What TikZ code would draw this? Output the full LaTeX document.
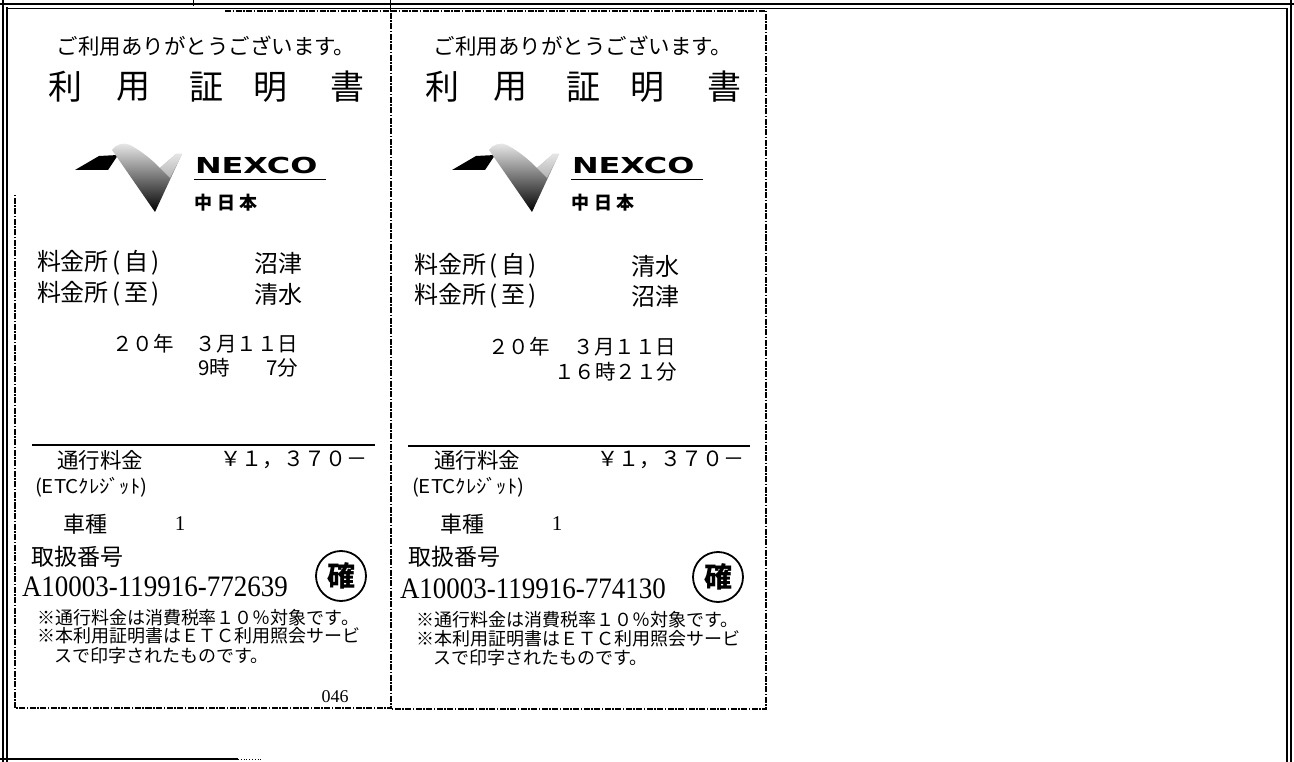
\documentclass[tikz,border=0pt]{standalone}
\usepackage{fontspec}
\newfontfamily\jp{Noto Sans CJK JP}
\newfontfamily\rmserif{Liberation Serif}
\newfontfamily\nexfont{DejaVu Sans}
\newcommand\myfs[1]{\fontsize{#1}{#1}\selectfont}
\tikzset{
  t/.style={inner sep=0pt, outer sep=0pt},
  framel/.style={line width=1.1pt},
  rcpt/.style={line width=1.1pt, dash pattern=on 6pt off 1.5pt on 1.5pt off 1.5pt},
  rule/.style={line width=1.4pt},
  stamp/.style={circle, draw, line width=1.8pt, minimum size=50pt, inner sep=0pt, font=\jp\bfseries\myfs{28}},
  lab/.style={t, anchor=west, font=\jp\myfs{24}},
  mid/.style={t, anchor=west, font=\jp\myfs{20.5}},
  note/.style={t, anchor=west, font=\jp\myfs{18}},
}
% common part of one receipt: #1 = name prefix, #2 = x shift
\newcommand\rcommon[2]{%
\begin{scope}[xshift=#2]
  \node[t, font=\jp\myfs{21.5}] (#1thanks) at (206,46) {ご利用ありがとうございます。};
  \node[t, font=\jp\myfs{34}] (#1tA) at (65,87) {利};
  \node[t, font=\jp\myfs{34}] (#1tB) at (133,87) {用};
  \node[t, font=\jp\myfs{34}] (#1tC) at (206,87) {証};
  \node[t, font=\jp\myfs{34}] (#1tD) at (270,87) {明};
  \node[t, font=\jp\myfs{34}] (#1tE) at (347,87) {書};
  % logo
  \fill (75,170) -- (99,156) -- (118,155) -- (108,170) -- cycle;
  \shade[top color=gray!15, bottom color=black]
    (112,150) .. controls (116,144) and (124,142) .. (130,145)
    .. controls (143,152) and (152,160) .. (160,168)
    -- (176,154) -- (182,154) -- (155,212) -- cycle;
  \shade[top color=gray!20, bottom color=gray!60]
    (160,168) -- (176,154) -- (182,154) -- (170,178) -- cycle;
  \node[t, anchor=west, font=\nexfont\bfseries\myfs{22}, xscale=1.45] (#1nexco) at (195,165) {NEXCO};
  \draw[line width=0.9pt] (194,179) -- (326,179);
  \node[t, font=\jp\bfseries\myfs{18}] (#1cA) at (203,203) {中};
  \node[t, font=\jp\bfseries\myfs{18}] (#1cB) at (226,203) {日};
  \node[t, font=\jp\bfseries\myfs{18}] (#1cC) at (248,203) {本};
  % fee block
  \node[t, anchor=west, font=\jp\myfs{21.5}] (#1fee) at (57,460) {通行料金};
  \node[t, anchor=west, font=\jp\myfs{21}] (#1yen) at (220,460) {￥１，３７０－};
  \node[t, anchor=west, font=\jp\myfs{19}, xscale=1.08] (#1etc) at (35,487) {(ETCｸﾚｼﾞｯﾄ)};
  \node[t, anchor=west, font=\jp\myfs{22}] (#1kind) at (63,524) {車種};
  \node[t, font=\rmserif\myfs{21}] (#1kindv) at (180,524) {1};
  \node[t, anchor=west, font=\jp\myfs{23}] (#1num) at (31,557) {取扱番号};
\end{scope}}
\begin{document}
\begin{tikzpicture}[x=1pt, y=-1pt]
  \fill[white] (0,0) rectangle (1294,762);
  \useasboundingbox (0,0) rectangle (1294,762);
  % outer scanned frame
  \draw[framel] (3,0) -- (3,762);
  \draw[framel] (7,7) -- (7,762);
  \draw[framel] (0,4) -- (1294,4);
  \draw[line width=0.6pt] (7,8) -- (1287,8);
  \draw[framel] (1287,8) -- (1287,762);
  \draw[framel] (1291,0) -- (1291,762);
  \draw[framel] (0,759) -- (238,759);
  \draw[line width=0.8pt, dotted] (238,759) -- (262,759);
  \draw[line width=0.8pt] (193,0) -- (193,6);
  \draw[line width=0.8pt] (390,0) -- (390,10);
  % receipt outlines
  \draw[rcpt] (225,11) -- (391,11) -- (391,708) -- (15,708) -- (15,195);
  \draw[rcpt] (391,11) -- (766,11) -- (766,709) -- (391,709);

  % ---------- receipt 1 ----------
  \rcommon{a}{0pt}
  \node[lab] (afrom) at (37,263) {料金所\kern4pt(\kern3pt自\kern3pt)};
  \node[lab] (afromv) at (254,263) {沼津};
  \node[lab] (ato) at (37,294) {料金所\kern4pt(\kern3pt至\kern3pt)};
  \node[lab] (atov) at (254,294) {清水};
  \node[mid] (ayear) at (112,344) {２０年};
  \node[mid, anchor=east] (adate) at (298,344) {３月１１日};
  \node[mid] (ahour) at (198,368) {9時};
  \node[mid, anchor=east] (amin) at (298,368) {7分};
  \draw[rule] (32,445) -- (375,445);
  \node[t, anchor=west, font=\rmserif\myfs{27}, yscale=1.1] (aid) at (22,587) {A10003-119916-772639};
  \node[stamp] (akaku) at (341,576) {確};
  \node[note] (anA) at (37,618) {※通行料金は消費税率１０％対象です。};
  \node[note] (anB) at (37,636) {※本利用証明書はＥＴＣ利用照会サービ};
  \node[note] (anC) at (54,656) {スで印字されたものです。};
  \node[t, font=\rmserif\myfs{18}] (aserial) at (335,697) {046};

  % ---------- receipt 2 ----------
  \rcommon{b}{377pt}
  \node[lab] (bfrom) at (414,266) {料金所\kern4pt(\kern3pt自\kern3pt)};
  \node[lab] (bfromv) at (631,266) {清水};
  \node[lab] (bto) at (414,296) {料金所\kern4pt(\kern3pt至\kern3pt)};
  \node[lab] (btov) at (631,296) {沼津};
  \node[mid] (byear) at (488,347) {２０年};
  \node[mid, anchor=east] (bdate) at (676,347) {３月１１日};
  \node[mid, anchor=east] (btime) at (677,372) {１６時２１分};
  \draw[rule] (408,446) -- (750,446);
  \node[t, anchor=west, font=\rmserif\myfs{27}, yscale=1.1] (bid) at (400,589) {A10003-119916-774130};
  \node[stamp] (bkaku) at (718,577) {確};
  \node[note] (bnA) at (416,620) {※通行料金は消費税率１０％対象です。};
  \node[note] (bnB) at (416,639) {※本利用証明書はＥＴＣ利用照会サービ};
  \node[note] (bnC) at (433,658) {スで印字されたものです。};
\end{tikzpicture}
\end{document}
